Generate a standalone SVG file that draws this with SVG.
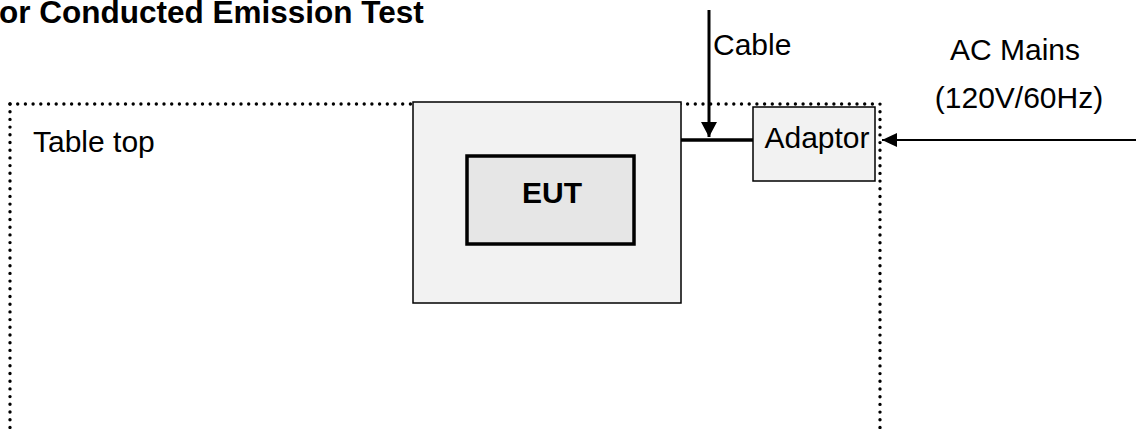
<svg xmlns="http://www.w3.org/2000/svg" width="1136" height="429" viewBox="0 0 1136 429">
<style>
text{font-family:"Liberation Sans",Arial,sans-serif;fill:#000}
.t{font-size:30px}
.b{font-weight:bold}
.dot{fill:none;stroke:#000;stroke-width:3.4;stroke-linecap:round;stroke-dasharray:0 7.7}
.ln{fill:none;stroke:#000}
</style>
<defs>
<marker id="ah" markerWidth="16" markerHeight="14" refX="15" refY="7" orient="auto" markerUnits="userSpaceOnUse">
<path d="M0,0 L15,7 L0,14 Z" fill="#000"/>
</marker>
<marker id="ah2" markerWidth="16" markerHeight="16" refX="15" refY="8" orient="auto" markerUnits="userSpaceOnUse">
<path d="M0,0 L15,8 L0,16 Z" fill="#000"/>
</marker>
</defs>
<text x="-1" y="23" class="b" style="font-size:31.5px">or Conducted Emission Test</text>
<g id="tabletop">
<path class="dot" d="M10,104 L880,104 L880,429"/>
<path class="dot" d="M10,104 L10,429"/>
<text x="33" y="152" class="t">Table top</text>
</g>
<g id="connectors">
<line class="ln" x1="681" y1="140" x2="753" y2="140" style="stroke-width:3.5"/>
<line class="ln" x1="709" y1="10" x2="709" y2="137" style="stroke-width:3" marker-end="url(#ah2)"/>
<line class="ln" x1="1136" y1="140" x2="882" y2="140" style="stroke-width:1.8" marker-end="url(#ah)"/>
</g>
<g id="support">
<rect x="413" y="102" width="268" height="201" fill="#f2f2f2" stroke="#000" stroke-width="1.5"/>
</g>
<g id="eut">
<rect x="467" y="156" width="167" height="88" fill="#e6e6e6" stroke="#000" stroke-width="3.5"/>
<text x="552" y="203" class="b" style="font-size:30px" text-anchor="middle">EUT</text>
</g>
<g id="adaptor">
<rect x="753" y="107" width="122" height="74" fill="#f2f2f2" stroke="#000" stroke-width="1.5"/>
<text x="817" y="148" class="t" text-anchor="middle">Adaptor</text>
</g>
<g id="labels">
<text x="713" y="55" class="t">Cable</text>
<text x="1015" y="60" class="t" text-anchor="middle">AC Mains</text>
<text x="1019" y="108" class="t" text-anchor="middle">(120V/60Hz)</text>
</g>
</svg>
